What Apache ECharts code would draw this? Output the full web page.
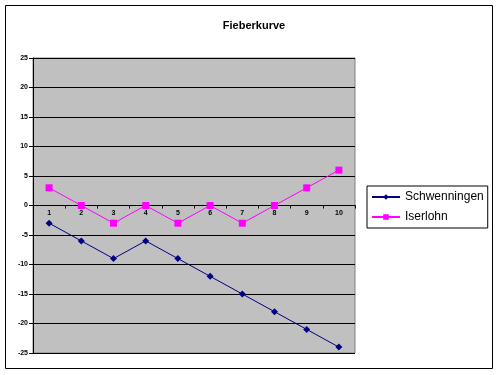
<!DOCTYPE html>
<html><head><meta charset="utf-8">
<script src="https://cdn.jsdelivr.net/npm/echarts@6/dist/echarts.min.js"></script>
<style>html,body{margin:0;padding:0;background:#fff}#c{width:498px;height:375px}</style>
</head><body><div id="c"></div>
<script>
const categories = ['1','2','3','4','5','6','7','8','9','10'];
const schwenningen = [-3,-6,-9,-6,-9,-12,-15,-18,-21,-24];
const iserlohn = [3,0,-3,0,-3,0,-3,0,3,6];
const seriesNames = ['Schwenningen','Iserlohn'];
const yMin = -25, yMax = 25, yStep = 5;

const gridTop = 58, gridHeight = 295;
const zeroOffset = -gridHeight * (0 - yMin) / (yMax - yMin);

const chart = echarts.init(document.getElementById('c'), null, {renderer:'canvas'});
chart.setOption({
  animation:false,
  backgroundColor:'#fff',
  title:{text:'Fieberkurve',left:249,textAlign:'center',top:15,textStyle:{fontFamily:'Arial, Liberation Sans',fontSize:11,fontWeight:'bold',color:'#000'}},
  graphic:[{type:'rect',shape:{x:5.5,y:5.5,width:487,height:363},style:{fill:null,stroke:'#000',lineWidth:1},z:-1}],
  grid:{left:33,top:gridTop,width:322,height:gridHeight,show:true,backgroundColor:'#C0C0C0',borderColor:'#808080',borderWidth:1},
  legend:{orient:'vertical',left:367,top:186,padding:[5,4,5,4],itemGap:8,itemWidth:28,itemHeight:7,borderColor:'#000',borderWidth:1,
    data:seriesNames,textStyle:{fontFamily:'Arial, Liberation Sans',fontSize:12,color:'#000'}},
  xAxis:{type:'category',data:categories,boundaryGap:true,position:'bottom',offset:zeroOffset,
    axisLine:{onZero:false,lineStyle:{color:'#000',width:1}},
    axisTick:{show:true,length:3,inside:false,lineStyle:{color:'#000'}},
    axisLabel:{fontFamily:'Arial, Liberation Sans',fontSize:7,fontWeight:'bold',color:'#000',margin:4},
    splitLine:{show:false}},
  yAxis:{type:'value',min:yMin,max:yMax,interval:yStep,
    axisLine:{show:true,lineStyle:{color:'#000'}},
    axisTick:{show:true,length:4,lineStyle:{color:'#000'}},
    axisLabel:{fontFamily:'Arial, Liberation Sans',fontSize:7,fontWeight:'bold',color:'#000',margin:5},
    splitLine:{show:true,lineStyle:{color:'#000',width:1}}},
  series:[
    {name:seriesNames[0],type:'line',data:schwenningen,symbol:'diamond',symbolSize:7,
     itemStyle:{color:'#000080'},lineStyle:{color:'#000080',width:1}},
    {name:seriesNames[1],type:'line',data:iserlohn,symbol:'rect',symbolSize:7,
     itemStyle:{color:'#FF00FF'},lineStyle:{color:'#FF00FF',width:1}}
  ]
});
</script></body></html>
